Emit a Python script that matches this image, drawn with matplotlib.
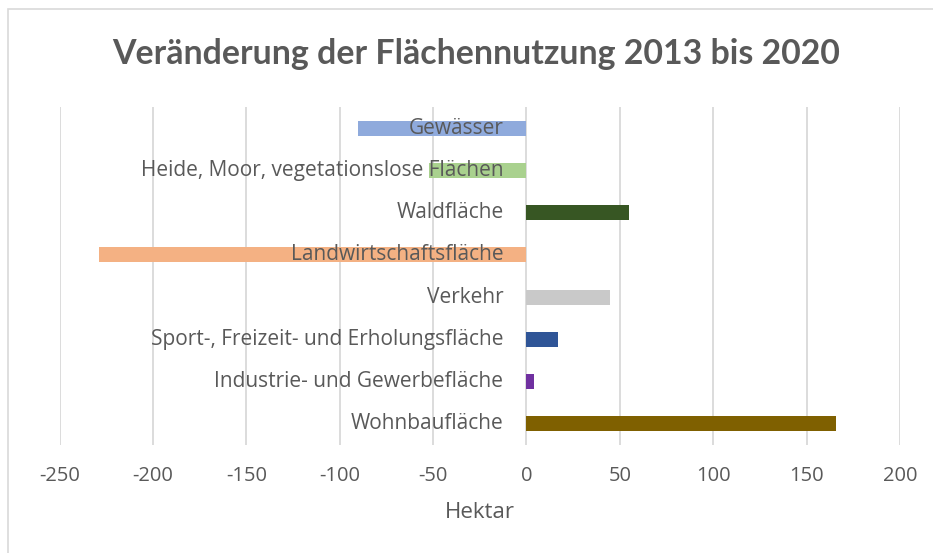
import matplotlib
matplotlib.use("Agg")
import matplotlib.pyplot as plt
from matplotlib.patches import Rectangle

categories = ["Gewässer", "Heide, Moor, vegetationslose Flächen", "Waldfläche",
              "Landwirtschaftsfläche", "Verkehr", "Sport-, Freizeit- und Erholungsfläche",
              "Industrie- und Gewerbefläche", "Wohnbaufläche"]
values = [-90, -52, 55, -229, 45, 17, 4, 166]
colors = ["#8faadc", "#a9d18e", "#375623", "#f4b183", "#c9c9c9", "#2f5597", "#7030a0", "#7f6000"]
xticks = [-250, -200, -150, -100, -50, 0, 50, 100, 150, 200]
title = "Veränderung der Flächennutzung 2013 bis 2020"
xlabel = "Hektar"

FONT = ["Open Sans", "DejaVu Sans"]
TFONT = ["Lato", "DejaVu Sans"]
GRAY = "#595959"

fig = plt.figure(figsize=(9.33, 5.53), dpi=100)
W, H = 933, 553
ax = fig.add_axes([59.5 / W, 1 - 445 / H, (900 - 59.5) / W, (445 - 107) / H])

y = list(range(len(categories)))
ax.barh(y, values, height=0.36, color=colors, zorder=3)
ax.set_ylim(len(categories) - 0.5, -0.5)
ax.set_xlim(-250, 200)
ax.set_xticks(xticks)
ax.set_xticklabels([str(t) for t in xticks], fontsize=14.5, color=GRAY, family=FONT)
ax.tick_params(axis="x", length=0, pad=15)
ax.set_yticks([])
for s in ax.spines.values():
    s.set_visible(False)
ax.grid(axis="x", color="#d9d9d9", linewidth=1.3, zorder=0)

for yi, c in zip(y, categories):
    ax.annotate(c, xy=(0, yi), xytext=(-23, 0), textcoords="offset pixels",
                ha="right", va="center", fontsize=15, color=GRAY, family=FONT, zorder=4)

ax.set_xlabel(xlabel, fontsize=16, color=GRAY, family=FONT, labelpad=12)

fig.text(476 / W, 1 - 54 / H, title, ha="center", va="center", fontsize=24.4,
         fontweight="bold", color=GRAY, family=TFONT)

# chart area border
fig.patches.append(Rectangle((8 / W, -0.1), 1.2, 1 - 9 / H + 0.1, transform=fig.transFigure,
                             fill=False, edgecolor="#d9d9d9", linewidth=1.2))

fig.savefig("out.png", dpi=100)
